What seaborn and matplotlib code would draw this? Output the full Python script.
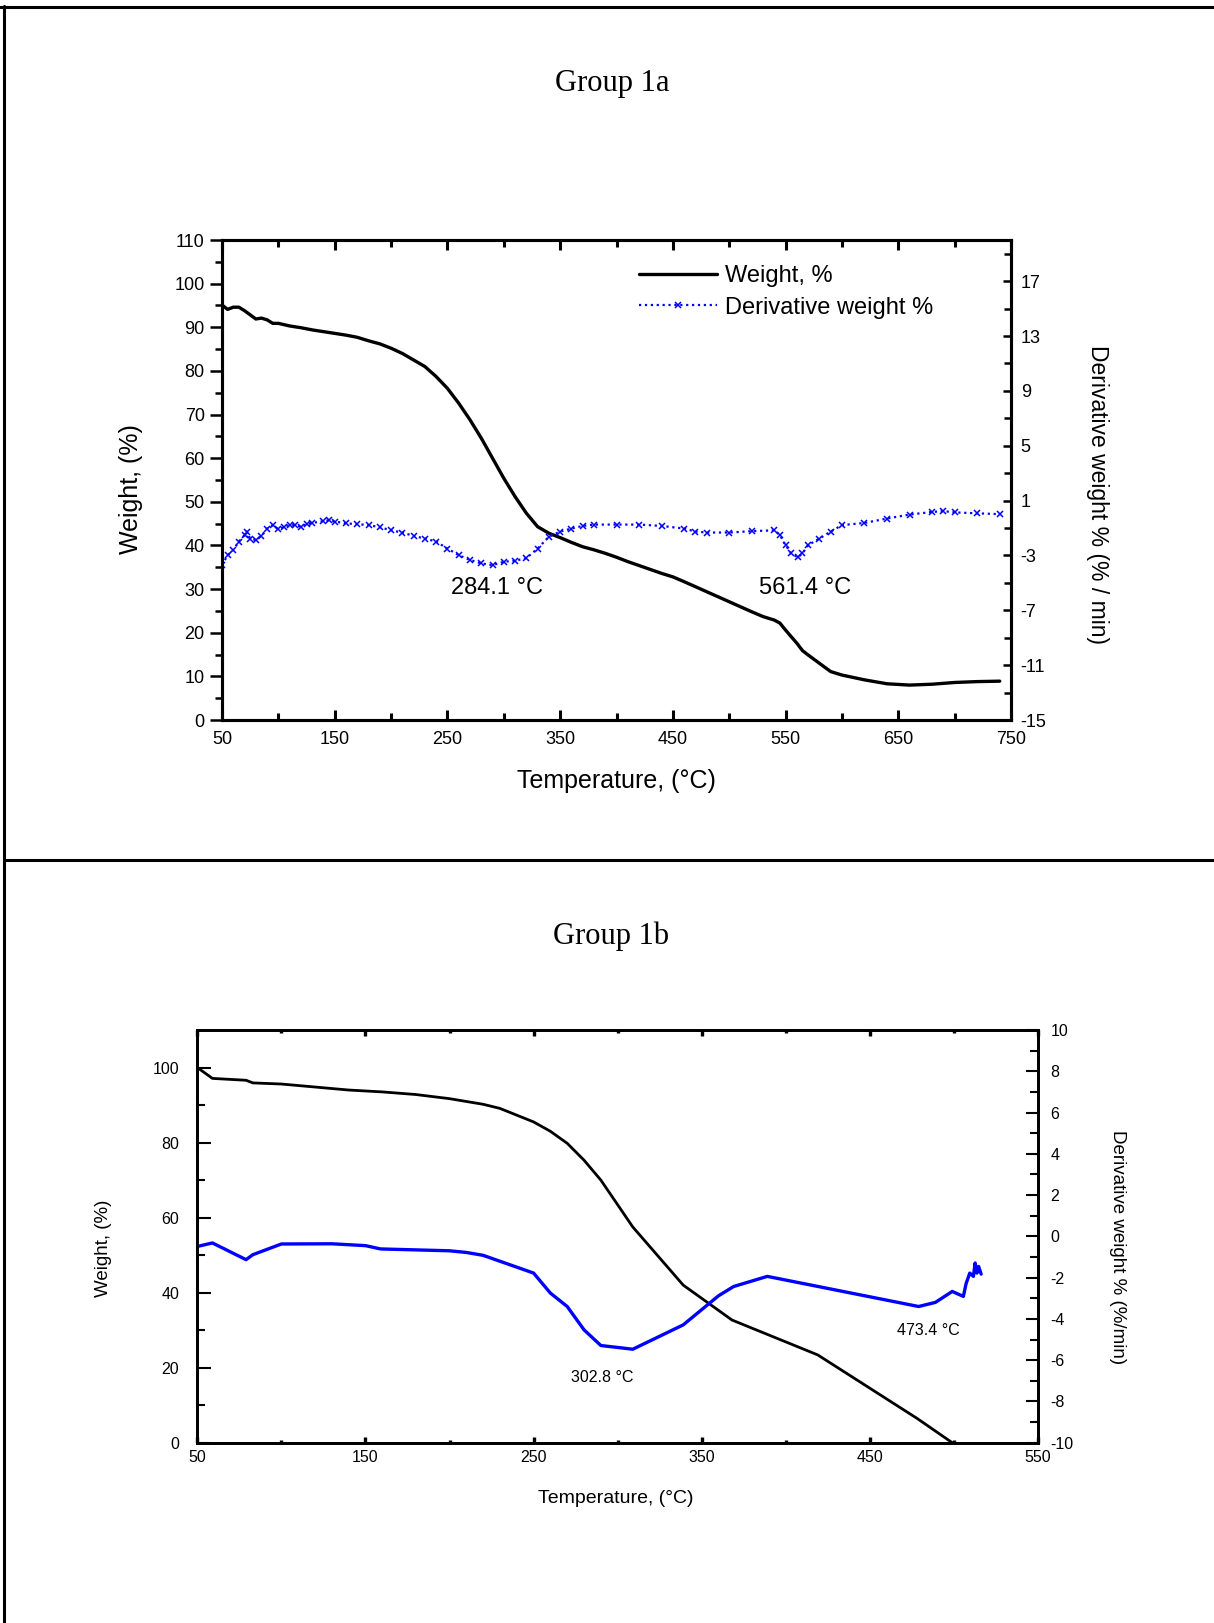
import matplotlib
matplotlib.use("Agg")
import matplotlib.pyplot as plt
import seaborn as sns
from matplotlib.lines import Line2D
from matplotlib.ticker import FixedLocator

# ---------------- Group 1a data ----------------
temp_1a_w = [50, 55, 60, 65, 70, 80, 85, 90, 95, 100, 110, 120, 130, 140, 150,
             160, 170, 180, 190, 200, 210, 220, 230, 240, 250, 260, 270, 280, 290, 300,
             310, 320, 330, 340, 350, 360, 370, 380, 390, 400, 410, 420, 440, 450, 460,
             480, 500, 520, 530, 540, 545, 550, 560, 565, 570, 580, 590, 600, 620, 640,
             660, 680, 700, 720, 740]
weight_1a = [95.1, 94.1, 94.6, 94.6, 93.8, 91.9, 92.1, 91.7, 90.9, 90.9, 90.3, 89.9, 89.4, 89.0, 88.6,
             88.2, 87.7, 86.9, 86.2, 85.2, 84.0, 82.5, 81.0, 78.7, 76.0, 72.6, 68.8, 64.6, 60.0, 55.4,
             51.2, 47.4, 44.3, 42.8, 41.8, 40.7, 39.7, 39.0, 38.2, 37.3, 36.3, 35.4, 33.6, 32.8, 31.7,
             29.4, 27.1, 24.8, 23.7, 22.9, 22.2, 20.6, 17.6, 15.9, 14.9, 13.0, 11.1, 10.3, 9.2, 8.3,
             8.0, 8.2, 8.6, 8.8, 8.9]

temp_1a_d = [50, 55, 60, 65, 70, 72, 75, 80, 85, 90, 95, 100, 105, 110, 115,
             120, 125, 130, 140, 145, 150, 160, 170, 180, 190, 200, 210, 220, 230, 240,
             250, 260, 270, 280, 290, 300, 310, 320, 330, 340, 350, 360, 370, 380, 400,
             420, 440, 460, 470, 480, 500, 520, 540, 545, 550, 555, 561, 565, 570, 580,
             590, 600, 620, 640, 660, 680, 690, 700, 720, 740]
deriv_1a = [-3.71, -2.98, -2.60, -1.99, -1.52, -1.26, -1.77, -1.87, -1.58, -1.04, -0.79, -1.10, -0.91, -0.79, -0.79,
            -0.91, -0.72, -0.63, -0.50, -0.44, -0.53, -0.66, -0.72, -0.79, -0.94, -1.17, -1.33, -1.58, -1.77, -1.99,
            -2.50, -2.98, -3.33, -3.58, -3.71, -3.46, -3.39, -3.20, -2.50, -1.64, -1.26, -1.04, -0.85, -0.75, -0.75,
            -0.75, -0.85, -1.04, -1.26, -1.33, -1.33, -1.23, -1.17, -1.52, -2.25, -2.85, -3.14, -2.85, -2.25, -1.77,
            -1.26, -0.79, -0.63, -0.31, -0.02, 0.17, 0.23, 0.14, 0.07, 0.01]

xticks_1a = [50, 150, 250, 350, 450, 550, 650, 750]
xminor_1a = [100, 200, 300, 400, 500, 600, 700]
yticks_1a = [0, 10, 20, 30, 40, 50, 60, 70, 80, 90, 100, 110]
yminor_1a = [5, 15, 25, 35, 45, 55, 65, 75, 85, 95, 105]
rticks_1a = [-15, -11, -7, -3, 1, 5, 9, 13, 17]
rminor_1a = [-13, -9, -5, -1, 3, 7, 11, 15, 19]
peaks_1a = ["284.1 °C", "561.4 °C"]

# ---------------- Group 1b data ----------------
temp_1b_w = [50, 59, 79, 83, 100, 120, 140, 160, 180, 200, 220, 230, 250, 260, 270,
             280, 290, 309, 339, 368, 419, 478, 499]
weight_1b = [100, 97.1, 96.6, 95.9, 95.6, 94.8, 94.0, 93.5, 92.8, 91.7, 90.2, 89.1, 85.5, 83.0, 79.8,
             75.3, 70.0, 57.5, 42.0, 32.7, 23.4, 6.5, 0.0]

temp_1b_d = [50, 59, 79, 83, 100, 130, 150, 159, 200, 210, 220, 250, 260, 270, 280,
             290, 309, 339, 360, 369, 389, 479, 489, 499, 505.6, 507.3, 508.4, 509.4, 511.6, 512.6,
             513.7, 514.7, 516.2]
deriv_1b = [-0.49, -0.32, -1.13, -0.89, -0.37, -0.36, -0.45, -0.61, -0.70, -0.78, -0.92, -1.78, -2.75, -3.40, -4.53,
            -5.29, -5.47, -4.29, -2.88, -2.43, -1.94, -3.40, -3.20, -2.67, -2.91, -2.27, -2.02, -1.78, -1.94, -1.29,
            -1.78, -1.46, -1.83]

xticks_1b = [50, 150, 250, 350, 450, 550]
xminor_1b = [100, 200, 300, 400, 500]
yticks_1b = [0, 20, 40, 60, 80, 100]
yminor_1b = [10, 30, 50, 70, 90]
rticks_1b = [-10, -8, -6, -4, -2, 0, 2, 4, 6, 8, 10]
rminor_1b = [-9, -7, -5, -3, -1, 1, 3, 5, 7, 9]
peaks_1b = ["302.8 °C", "473.4 °C"]

# ---------------- style ----------------
sns.set_theme(style="ticks", rc={
    "axes.edgecolor": "black", "xtick.color": "black", "ytick.color": "black",
    "text.color": "black", "axes.labelcolor": "black",
})
plt.rcParams["font.family"] = ["Liberation Sans", "DejaVu Sans"]
plt.rcParams["axes.unicode_minus"] = False

W, H = 1214, 1623
fig = plt.figure(figsize=(W / 100, H / 100), dpi=100)


def box(l, t, r, b):
    return [l / W, 1 - b / H, (r - l) / W, (b - t) / H]


# frame lines of the page
fig.add_artist(Line2D([0, 1], [1 - 6.7 / H] * 2, color="black", lw=2.2, transform=fig.transFigure))
fig.add_artist(Line2D([4 / W] * 2, [0, 1 - 6 / H], color="black", lw=2.2, transform=fig.transFigure))
fig.add_artist(Line2D([4 / W, 1], [1 - 860 / H] * 2, color="black", lw=2.2, transform=fig.transFigure))

# =============== Group 1a ===============
ax1 = fig.add_axes(box(222, 240, 1011, 720))
ax1r = ax1.twinx()

sns.lineplot(x=temp_1a_w, y=weight_1a, ax=ax1, color="black", lw=2.4, sort=False,
             estimator=None, legend=False, label="Weight, %")
sns.lineplot(x=temp_1a_d, y=deriv_1a, ax=ax1r, color="blue", lw=1.6, linestyle=":",
             marker="x", markersize=5, markeredgewidth=1.1, markeredgecolor="blue",
             markerfacecolor="blue", sort=False,
             estimator=None, legend=False, label="Derivative weight %")

ax1.set_xlim(50, 750)
ax1.set_ylim(0, 110)
ax1r.set_ylim(-15, 20)
ax1.xaxis.set_major_locator(FixedLocator(xticks_1a))
ax1.xaxis.set_minor_locator(FixedLocator(xminor_1a))
ax1.yaxis.set_major_locator(FixedLocator(yticks_1a))
ax1.yaxis.set_minor_locator(FixedLocator(yminor_1a))
ax1r.yaxis.set_major_locator(FixedLocator(rticks_1a))
ax1r.yaxis.set_minor_locator(FixedLocator(rminor_1a))

ax1.tick_params(axis="x", which="both", direction="in", top=True, bottom=True, width=2.2,
                labelsize=13, pad=8)
ax1.tick_params(axis="x", which="major", length=7)
ax1.tick_params(axis="x", which="minor", length=5)
ax1.tick_params(axis="y", which="both", direction="out", left=True, right=False, width=1.8,
                labelsize=13, pad=4)
ax1.tick_params(axis="y", which="major", length=8.5)
ax1.tick_params(axis="y", which="minor", length=5)
ax1r.tick_params(axis="y", which="both", direction="in", right=True, width=1.8,
                 labelsize=13, pad=7)
ax1r.tick_params(axis="y", which="major", length=6)
ax1r.tick_params(axis="y", which="minor", length=5)

for a in (ax1, ax1r):
    for s in a.spines.values():
        s.set_linewidth(2.2)
        s.set_color("black")

ax1.set_xlabel("Temperature, (°C)", fontsize=18, va="center")
ax1.xaxis.set_label_coords(0.4994, -0.127)
ax1.set_ylabel("Weight, (%)", fontsize=18, va="center", ha="center")
ax1.yaxis.set_label_coords(-0.1153, 0.481)
ax1r.set_ylabel("Derivative weight % (% / min)", fontsize=16.5, rotation=270, va="center", ha="center")
ax1r.yaxis.set_label_coords(1.109, 0.469)
ax1.set_title("Group 1a", fontfamily=["Liberation Serif", "DejaVu Serif"], fontsize=22,
              x=0.494, y=1.327, va="center", pad=0)

ax1.text(294, 30.2, peaks_1a[0], fontsize=17, ha="center", va="center")
ax1.text(567.6, 30.2, peaks_1a[1], fontsize=17, ha="center", va="center")

handles = [ax1.get_lines()[0], ax1r.get_lines()[0]]
ax1r.legend(handles, [h.get_label() for h in handles], loc="center left",
            bbox_to_anchor=(0.5285, 0.8917), frameon=False, fontsize=17,
            borderpad=0, borderaxespad=0, handlelength=3.3, handletextpad=0.35,
            labelspacing=0.4, numpoints=1)

# =============== Group 1b ===============
ax2 = fig.add_axes(box(197.3, 1030, 1038, 1442.7))
ax2r = ax2.twinx()

sns.lineplot(x=temp_1b_w, y=weight_1b, ax=ax2, color="black", lw=2.0, sort=False,
             estimator=None, legend=False)
sns.lineplot(x=temp_1b_d, y=deriv_1b, ax=ax2r, color="blue", lw=2.4, sort=False,
             estimator=None, legend=False)

ax2.set_xlim(50, 550)
ax2.set_ylim(0, 110)
ax2r.set_ylim(-10, 10)
ax2.xaxis.set_major_locator(FixedLocator(xticks_1b))
ax2.xaxis.set_minor_locator(FixedLocator(xminor_1b))
ax2.yaxis.set_major_locator(FixedLocator(yticks_1b))
ax2.yaxis.set_minor_locator(FixedLocator(yminor_1b))
ax2r.yaxis.set_major_locator(FixedLocator(rticks_1b))
ax2r.yaxis.set_minor_locator(FixedLocator(rminor_1b))

ax2.tick_params(axis="x", which="both", direction="in", top=True, bottom=True, width=2.4,
                labelsize=11.5, pad=5)
ax2.tick_params(axis="x", which="major", length=4)
ax2.tick_params(axis="x", which="minor", length=2.5)
ax2.tick_params(axis="y", which="both", direction="in", left=True, right=False, width=1.5,
                labelsize=11.5, pad=13)
ax2.tick_params(axis="y", which="major", length=10)
ax2.tick_params(axis="y", which="minor", length=5.5)
ax2r.tick_params(axis="y", which="both", direction="in", right=True, width=1.5,
                 labelsize=11.5, pad=9)
ax2r.tick_params(axis="y", which="major", length=9)
ax2r.tick_params(axis="y", which="minor", length=6)

for a in (ax2, ax2r):
    for s in a.spines.values():
        s.set_linewidth(2.0)
        s.set_color("black")

ax2.set_xlabel("Temperature, (°C)", fontsize=14, va="center")
ax2.xaxis.set_label_coords(0.498, -0.134)
ax2.set_ylabel("Weight, (%)", fontsize=13.5, va="center", ha="center")
ax2.yaxis.set_label_coords(-0.1116, 0.472)
ax2r.set_ylabel("Derivative weight % (%/min)", fontsize=13.5, rotation=270, va="center", ha="center")
ax2r.yaxis.set_label_coords(1.095, 0.474)
ax2.set_title("Group 1b", fontfamily=["Liberation Serif", "DejaVu Serif"], fontsize=22,
              x=0.492, y=1.228, va="center", pad=0)

ax2.text(291, 17.3, peaks_1b[0], fontsize=11.5, ha="center", va="center")
ax2.text(485, 30.0, peaks_1b[1], fontsize=11.5, ha="center", va="center")

fig.savefig("out.png", dpi=100, facecolor="white")
